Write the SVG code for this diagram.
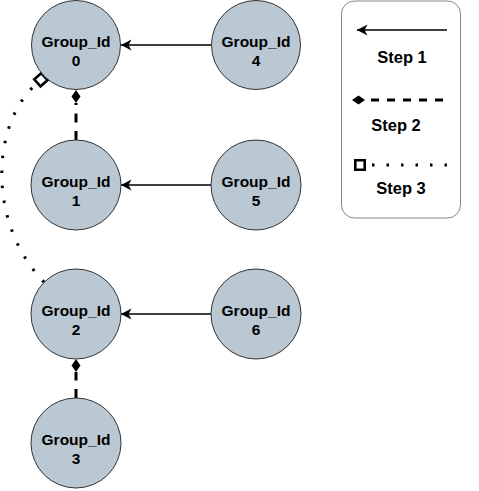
<svg xmlns="http://www.w3.org/2000/svg" width="479" height="491" viewBox="0 0 479 491">
<style>
.node circle{fill:#bac8d3;stroke:#333;stroke-width:1}
.node text,.legend text{font-family:"Liberation Sans",Arial,sans-serif;font-weight:bold;text-anchor:middle;fill:#000}
.node text{font-size:15.5px}
.legend text{font-size:16.5px}
.s1{fill:none;stroke:#000;stroke-width:1.5}
.s2{fill:none;stroke:#000;stroke-width:3;stroke-dasharray:9 8.5}
.s3{fill:none;stroke:#000;stroke-width:3;stroke-dasharray:2.5 12.5}
</style>
<defs>
<marker id="arrow" markerUnits="userSpaceOnUse" viewBox="-12 -7 14 14" markerWidth="14" markerHeight="14" refX="0" refY="0" orient="auto">
<path d="M0,0 L-10.5,-5.5 L-7.5,0 L-10.5,5.5 Z" fill="#000"/>
</marker>
<marker id="diamond" markerUnits="userSpaceOnUse" viewBox="-1 -6 15 12" markerWidth="15" markerHeight="12" refX="0" refY="0" orient="auto">
<path d="M0,0 L6.5,-4.5 L13,0 L6.5,4.5 Z" fill="#000"/>
</marker>
<marker id="square" markerUnits="userSpaceOnUse" viewBox="-1 -8 16 16" markerWidth="16" markerHeight="16" refX="0" refY="0" orient="auto">
<rect x="1.3" y="-4.7" width="9.4" height="9.4" fill="#fff" stroke="#000" stroke-width="2.6"/>
</marker>
</defs>
<g id="connectors">
<path class="s1" d="M211,45 L121,45" marker-end="url(#arrow)"/>
<path class="s1" d="M211,185 L121,185" marker-end="url(#arrow)"/>
<path class="s1" d="M211,314 L121,314" marker-end="url(#arrow)"/>
<path class="s2" d="M76,140 L76,103" marker-end="url(#diamond)"/>
<path class="s2" d="M76,398 L76,372" marker-end="url(#diamond)"/>
<path class="s3" d="M44.2,282.2 C-12,225 -10,125 36.4,83.8" marker-end="url(#square)"/>
</g>
<g id="node0" class="node"><circle cx="76" cy="45" r="44.5"/><text x="76" y="46.5">Group_Id</text><text x="76" y="65.5">0</text></g>
<g id="node1" class="node"><circle cx="76" cy="185" r="45"/><text x="76" y="186.5">Group_Id</text><text x="76" y="205.5">1</text></g>
<g id="node2" class="node"><circle cx="76" cy="314" r="45"/><text x="76" y="315.5">Group_Id</text><text x="76" y="334.5">2</text></g>
<g id="node3" class="node"><circle cx="76" cy="443" r="45"/><text x="76" y="444.5">Group_Id</text><text x="76" y="463.5">3</text></g>
<g id="node4" class="node"><circle cx="256" cy="45" r="44.5"/><text x="256" y="46.5">Group_Id</text><text x="256" y="65.5">4</text></g>
<g id="node5" class="node"><circle cx="256" cy="185" r="45"/><text x="256" y="186.5">Group_Id</text><text x="256" y="205.5">5</text></g>
<g id="node6" class="node"><circle cx="256" cy="314" r="45"/><text x="256" y="315.5">Group_Id</text><text x="256" y="334.5">6</text></g>
<g id="legend" class="legend">
<rect x="341.5" y="1" width="119" height="217" rx="13" ry="13" fill="#fff" stroke="#888" stroke-width="1"/>
<path class="s1" d="M447,30 L357,30" marker-end="url(#arrow)"/>
<text x="402" y="63">Step 1</text>
<path class="s2" d="M443,100 L365,100" style="stroke-dasharray:8 8" marker-end="url(#diamond)"/>
<text x="396" y="131">Step 2</text>
<path class="s3" d="M447,165 L366,165" style="stroke-dasharray:2.5 12" marker-end="url(#square)"/>
<text x="401" y="194">Step 3</text>
</g>
</svg>
